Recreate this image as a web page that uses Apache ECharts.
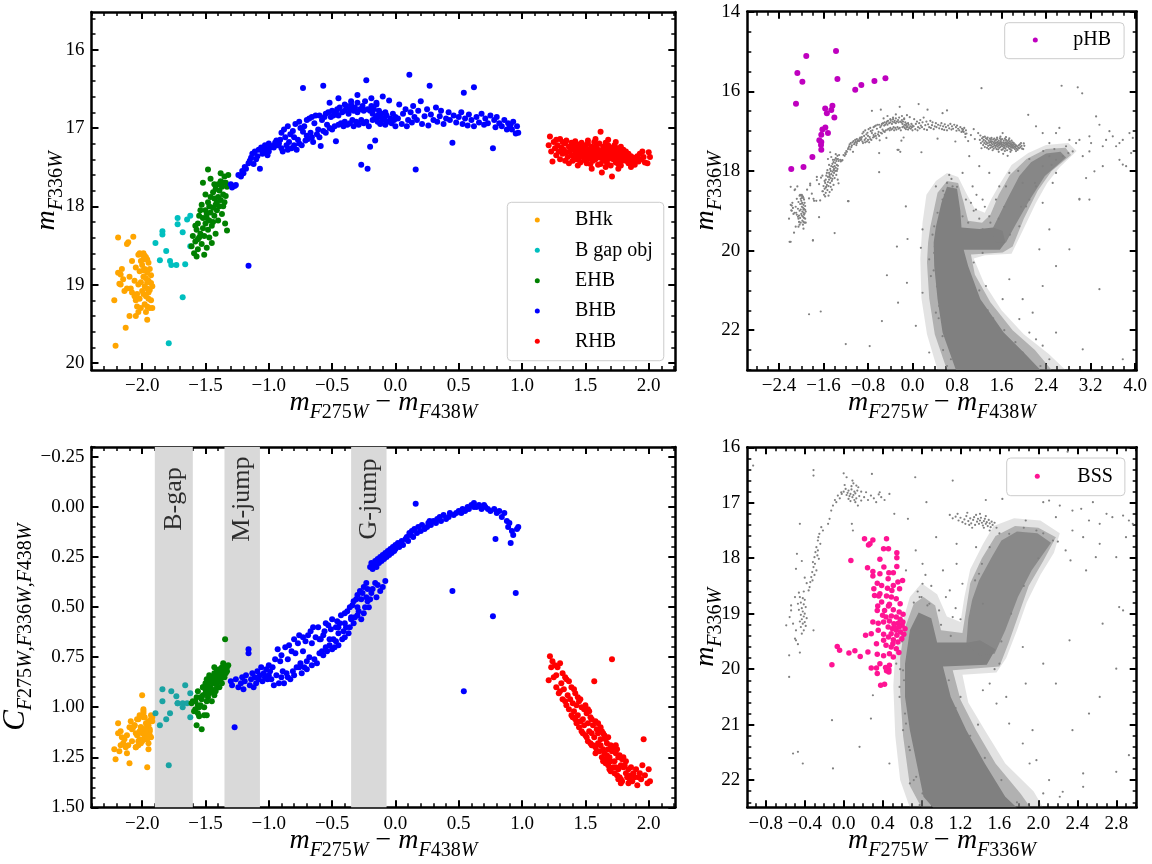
<!DOCTYPE html>
<html><head><meta charset="utf-8">
<script src="https://cdn.jsdelivr.net/npm/echarts@6/dist/echarts.min.js"></script>
<style>html,body{margin:0;padding:0;background:#fff}#c{width:1152px;height:864px}</style>
</head><body><div id="c"></div><script>
// ---------- DATA: HB stars as [m275-m438, m336, C(275,336,438)] ----------
const bhkData = [[-2.19,18.40,1.08],[-2.12,18.48,1.14],[-2.11,18.46,1.19],[-2.07,18.39,1.10],[-2.22,19.20,1.21],[-2.21,19.78,1.26],[-2.13,19.55,1.20],[-2.10,19.40,1.28],[-1.96,19.45,1.30],[-2.03,19.35,1.17],[-2.16,18.80,1.15],[-2.17,18.87,1.12],[-2.15,18.93,1.18],[-2.18,18.99,1.22],[-2.14,19.08,1.16],[-2.19,18.85,1.13],[-2.08,19.10,1.11],[-2.06,19.15,1.09],[-2.09,19.05,1.07],[-2.05,19.20,1.20],[-2.04,19.28,1.14],[-2.03,18.62,1.06],[-2.02,18.60,1.04],[-2.00,18.62,0.94],[-1.99,18.60,1.01],[-1.98,18.63,1.05],[-1.97,18.65,1.08],[-1.96,18.68,1.12],[-2.01,18.70,1.10],[-1.95,18.72,1.07],[-2.00,18.75,1.13],[-1.98,18.80,1.15],[-1.96,18.85,1.09],[-1.94,18.80,1.11],[-2.02,18.83,1.16],[-1.99,18.90,1.03],[-1.97,18.92,1.12],[-1.95,18.95,1.18],[-1.93,18.98,1.06],[-2.01,18.97,1.10],[-2.03,19.00,1.19],[-1.98,19.02,1.14],[-1.96,19.05,1.08],[-1.94,19.07,1.12],[-1.92,19.02,1.05],[-2.00,19.08,1.17],[-1.99,19.12,1.11],[-1.97,19.15,1.13],[-1.95,19.18,1.09],[-1.93,19.20,1.15],[-2.02,19.18,1.12],[-2.04,19.12,1.06],[-1.98,19.25,1.16],[-1.96,19.28,1.10],[-1.94,19.30,1.14],[-1.92,19.30,1.07],[-2.01,19.30,1.18],[-1.99,18.68,1.05],[-2.05,18.78,1.13],[-1.93,18.88,1.04],[-2.06,18.95,1.09],[-2.08,18.70,1.17],[-1.95,19.10,1.21],[-2.05,19.40,1.20],[-1.99,18.82,1.02],[-1.97,19.35,1.11],[-2.12,19.05,1.23],[-2.17,19.00,1.19],[-2.10,18.90,1.10],[-1.96,18.97,1.16]];
const bgapData = [[-1.895,18.47,1.03],[-1.86,18.69,1.09],[-1.84,18.32,0.91],[-1.84,18.36,0.97],[-1.81,18.57,1.06],[-1.78,18.70,1.03],[-1.77,18.75,0.92],[-1.73,18.75,0.945],[-1.72,18.15,0.98],[-1.72,18.23,0.98],[-1.68,18.33,0.98],[-1.66,18.74,0.89],[-1.645,18.17,0.98],[-1.62,18.12,0.93],[-1.62,18.51,1.05],[-1.68,19.16,1.00],[-1.79,19.75,1.29]];
const ehbData = [[-1.61,18.51,0.98],[-1.57,18.64,1.09],[-1.59,18.60,1.02],[-1.58,18.45,0.97],[-1.56,18.55,1.03],[-1.55,18.40,1.045],[-1.57,18.30,0.95],[-1.56,18.22,0.92],[-1.54,18.35,0.99],[-1.53,18.48,1.11],[-1.52,18.28,0.94],[-1.52,18.15,0.90],[-1.51,18.38,1.00],[-1.50,18.05,0.88],[-1.50,18.22,0.93],[-1.49,18.53,1.04],[-1.49,18.10,0.86],[-1.48,17.95,0.89],[-1.48,18.30,0.95],[-1.47,18.00,0.84],[-1.47,18.18,0.91],[-1.46,17.88,0.87],[-1.46,18.08,0.90],[-1.45,18.47,0.97],[-1.45,18.25,0.92],[-1.44,17.82,0.85],[-1.44,18.02,0.88],[-1.43,17.90,0.83],[-1.43,18.12,0.94],[-1.42,17.78,0.86],[-1.42,18.35,0.91],[-1.41,17.95,0.82],[-1.41,18.05,0.89],[-1.40,17.72,0.84],[-1.40,17.88,0.87],[-1.39,18.00,0.90],[-1.39,17.80,0.81],[-1.38,17.68,0.83],[-1.38,17.92,0.86],[-1.37,17.75,0.80],[-1.37,18.10,0.88],[-1.36,17.70,0.82],[-1.36,17.85,0.84],[-1.35,17.62,0.79],[-1.35,17.95,0.85],[-1.34,17.70,0.81],[-1.34,17.87,0.83],[-1.345,18.22,0.66],[-1.33,18.31,0.80],[-1.32,17.60,0.79],[-1.33,17.75,0.82],[-1.48,17.53,0.86],[-1.52,17.70,0.90],[-1.53,17.98,0.96],[-1.55,18.12,1.00],[-1.58,18.25,1.01],[-1.60,18.38,0.97],[-1.51,18.62,1.04],[-1.47,18.40,0.93],[-1.44,18.20,0.87],[-1.43,17.72,0.80],[-1.46,17.65,0.85],[-1.50,17.85,0.91],[-1.54,18.05,0.95],[-1.40,18.18,0.86],[-1.38,17.58,0.84],[-1.36,18.00,0.78],[-1.42,17.98,0.92],[-1.49,18.15,0.97],[-1.56,18.42,0.99]];
const bhbData = [[-1.30,17.72,0.87],[-1.29,17.76,0.89],[-1.27,17.74,1.10],[-1.26,17.73,0.86],[-1.24,17.60,0.90],[-1.22,17.62,0.88],[-1.21,17.55,0.85],[-1.20,17.58,0.91],[-1.19,17.50,0.87],[-1.18,17.52,0.84],[-1.16,18.76,0.71],[-1.16,17.45,0.73],[-1.15,17.42,0.89],[-1.14,17.38,0.86],[-1.13,17.33,0.83],[-1.12,17.46,0.90],[-1.11,17.30,0.85],[-1.10,17.40,0.88],[-1.09,17.36,0.82],[-1.08,17.28,0.86],[-1.07,17.52,0.84],[-1.06,17.25,0.80],[-1.05,17.33,0.87],[-1.04,17.30,0.83],[-1.03,17.22,0.85],[-1.02,17.27,0.81],[-1.01,17.35,0.86],[-1.00,17.20,0.79],[-1.00,17.30,0.84],[-0.99,17.25,0.82],
[-0.98,17.24,0.86],[-0.97,17.23,0.80],[-0.96,17.25,0.89],[-0.95,17.19,0.76],[-0.94,17.16,0.84],[-0.93,17.22,0.71],[-0.92,17.20,0.88],[-0.91,17.15,0.77],[-0.90,17.26,0.85],[-0.90,17.06,0.74],[-0.89,17.30,0.82],[-0.88,17.02,0.88],[-0.87,17.12,0.70],[-0.86,17.22,0.83],[-0.85,17.28,0.76],[-0.85,16.98,0.85],[-0.84,17.18,0.69],[-0.83,17.08,0.86],[-0.82,17.26,0.72],[-0.81,17.04,0.82],[-0.80,17.12,0.66],[-0.80,17.22,0.84],[-0.79,16.95,0.73],[-0.78,17.28,0.80],[-0.77,17.15,0.68],[-0.76,16.92,0.80],[-0.76,17.20,0.64],[-0.75,17.00,0.78],[-0.74,17.22,0.83],[-0.73,16.49,0.72],[-0.73,17.05,0.65],[-0.72,16.98,0.80],[-0.71,17.16,0.67],[-0.70,16.90,0.77],[-0.70,17.10,0.81],[-0.69,17.14,0.64],[-0.68,16.88,0.75],[-0.67,17.06,0.62],[-0.66,17.12,0.79],[-0.66,16.86,0.68],[-0.65,17.18,0.60],[-0.64,16.94,0.76],[-0.63,16.84,0.65],[-0.62,17.08,0.78],[-0.61,17.02,0.60],[-0.60,16.84,0.73],[-0.60,17.12,0.66],[-0.59,17.23,0.66],[-0.58,16.90,0.72],[-0.57,16.46,0.64],
[-0.57,17.04,0.74],[-0.56,16.86,0.62],[-0.55,16.82,0.70],[-0.55,17.06,0.58],[-0.54,16.96,0.72],[-0.53,16.80,0.59],[-0.52,17.00,0.69],[-0.51,16.86,0.61],[-0.50,16.78,0.71],[-0.50,17.02,0.56],[-0.49,16.84,0.66],[-0.48,16.98,0.70],[-0.47,17.17,0.60],[-0.47,16.80,0.67],[-0.46,16.76,0.57],[-0.45,16.96,0.63],[-0.45,16.84,0.69],[-0.44,16.74,0.58],[-0.43,16.94,0.54],[-0.42,16.80,0.66],[-0.41,16.98,0.62],[-0.40,16.78,0.53],[-0.40,16.92,0.65],[-0.39,16.72,0.60],[-0.38,16.96,0.52],[-0.37,16.82,0.63],[-0.36,16.76,0.50],[-0.36,16.94,0.60],[-0.35,16.70,0.56],[-0.34,16.90,0.49],[-0.33,16.78,0.58],[-0.33,16.98,0.47],[-0.32,16.74,0.55],[-0.31,16.92,0.46],[-0.30,16.80,0.54],[-0.30,16.68,0.44],[-0.29,16.96,0.52],[-0.28,16.76,0.42],[-0.27,17.47,0.46],[-0.27,16.90,0.56],[-0.26,16.72,0.43],[-0.25,16.94,0.53],[-0.25,16.78,0.40],[-0.24,16.66,0.50],[-0.23,16.39,0.45],[-0.23,16.92,0.38],[-0.22,17.52,0.47],[-0.22,16.76,0.41],[-0.21,16.98,0.50],[-0.20,17.24,0.46],
[-0.52,16.68,0.66],[-0.45,16.62,0.60],[-0.40,16.70,0.58],[-0.35,16.66,0.55],[-0.30,16.58,0.50],
[-0.20,16.78,0.30],[-0.19,16.62,0.43],[-0.19,16.72,0.28],[-0.18,16.90,0.41],[-0.18,16.82,0.31],[-0.17,16.76,0.29],[-0.16,17.16,0.38],[-0.16,16.88,0.27],[-0.15,16.68,0.30],[-0.15,16.70,0.45],[-0.14,16.92,0.26],[-0.14,16.84,0.39],[-0.13,16.78,0.28],[-0.12,16.95,0.25],[-0.12,16.86,0.42],[-0.11,16.82,0.27],[-0.10,16.60,0.24],[-0.10,16.90,0.40],[-0.09,16.88,0.26],[-0.08,16.80,0.23],[-0.08,16.96,0.37],[-0.07,16.84,0.25],[-0.06,16.92,0.22],[-0.05,16.65,0.24],[-0.04,16.88,0.21],[-0.03,16.94,0.23],[-0.02,16.82,0.20],[-0.01,16.90,0.22],[0.00,16.86,0.19],[0.00,16.98,0.21],
[0.02,16.88,0.18],[0.03,16.70,0.20],[0.05,16.95,0.17],[0.06,16.82,0.19],[0.08,16.76,0.16],[0.09,16.98,0.15],[0.10,16.90,0.17],[0.11,16.32,0.13],[0.12,16.80,0.14],[0.13,16.93,0.12],[0.14,16.72,0.15],[0.15,16.86,0.11],[0.16,17.53,-0.017],[0.17,16.90,0.13],[0.18,16.78,0.10],[0.20,16.66,0.12],[0.21,16.95,0.09],[0.23,16.85,0.11],[0.25,16.76,0.10],[0.26,16.97,0.08],[0.27,16.46,0.07],[0.28,16.83,0.09],[0.30,16.90,0.07],[0.32,16.74,0.08],[0.33,16.92,0.06],[0.35,16.85,0.05],[0.36,16.78,0.07],[0.38,16.95,0.04],[0.40,16.88,0.06],[0.42,16.80,0.05],[0.43,16.90,0.03],[0.45,17.19,0.42],[0.46,16.84,0.04],[0.48,16.93,0.03],[0.50,16.86,0.02],
[0.52,16.80,0.03],[0.53,16.95,0.01],[0.54,16.55,0.92],[0.55,16.88,0.02],[0.57,16.97,0.00],[0.58,16.83,0.01],[0.60,16.90,-0.01],[0.62,16.48,0.00],[0.62,16.98,-0.02],[0.64,16.86,0.00],[0.66,16.93,-0.01],[0.68,16.82,0.01],[0.70,16.96,-0.01],[0.71,16.88,0.00],[0.73,16.94,0.01],[0.75,16.84,0.02],[0.77,17.26,0.545],[0.78,16.90,0.01],[0.79,16.99,0.16],[0.80,16.86,0.03],[0.82,16.94,0.02],[0.84,16.98,0.05],[0.86,16.90,0.03],[0.88,17.02,0.07],[0.89,16.94,0.10],[0.90,17.00,0.08],[0.91,16.96,0.18],[0.92,17.02,0.12],[0.93,16.92,0.14],[0.95,17.07,0.43],[0.96,16.98,0.11],[0.97,17.06,0.10]];
const rhbData = [[1.21,17.22,0.865],[1.22,17.11,0.745],[1.23,17.30,0.80],[1.24,17.43,0.77],[1.25,17.18,0.85],[1.26,17.26,0.79],[1.27,17.15,0.84],[1.27,17.35,0.90],[1.28,17.22,0.80],[1.29,17.30,0.93],[1.30,17.14,0.78],[1.30,17.40,0.92],
[1.31,17.25,0.88],[1.32,17.18,0.96],[1.32,17.33,0.83],[1.33,17.28,0.91],[1.34,17.42,0.97],[1.34,17.20,0.85],[1.35,17.31,0.99],[1.35,17.16,0.86],[1.36,17.37,0.94],[1.37,17.24,1.01],[1.37,17.45,0.87],[1.38,17.29,0.96],[1.39,17.19,1.04],[1.39,17.35,0.90],[1.40,17.27,0.98],[1.40,17.42,1.05],
[1.41,17.22,0.91],[1.41,17.36,1.02],[1.42,17.30,1.06],[1.42,17.17,0.93],[1.43,17.40,0.99],[1.43,17.26,1.08],[1.44,17.33,0.95],[1.44,17.48,1.04],[1.45,17.21,1.10],[1.45,17.38,0.97],[1.46,17.28,1.07],[1.46,17.44,0.96],[1.47,17.32,1.12],[1.47,17.19,1.00],[1.48,17.36,1.06],[1.48,17.25,1.13],[1.49,17.41,1.01],[1.49,17.30,1.09],[1.50,17.22,1.14],[1.50,17.37,0.99],
[1.51,17.29,1.03],[1.51,17.45,1.15],[1.52,17.34,1.08],[1.52,17.20,1.17],[1.53,17.39,1.02],[1.53,17.27,1.12],[1.54,17.31,1.18],[1.54,17.46,1.05],[1.55,17.24,1.13],[1.55,17.36,1.06],[1.56,17.30,1.19],[1.56,17.42,1.09],[1.57,17.18,0.87],[1.57,17.34,1.15],[1.58,17.27,1.07],[1.58,17.40,1.20],[1.59,17.32,1.11],[1.59,17.22,1.22],[1.60,17.37,1.08],[1.60,17.28,1.18],[1.60,17.47,1.13],[1.55,17.52,1.19],[1.52,17.16,1.01],[1.58,17.14,1.23],
[1.61,17.33,1.12],[1.61,17.20,1.22],[1.62,17.05,1.10],[1.62,17.38,1.19],[1.63,17.57,1.25],[1.63,17.29,1.12],[1.64,17.35,1.21],[1.64,17.24,1.27],[1.65,17.41,1.14],[1.65,17.31,1.23],[1.66,17.19,1.16],[1.66,17.37,1.28],[1.67,17.28,1.18],[1.67,17.44,1.24],[1.68,17.33,1.29],[1.68,17.22,1.15],[1.69,17.39,1.25],[1.69,17.30,1.31],[1.70,17.35,1.19],[1.70,17.25,1.27],[1.71,17.62,0.76],[1.70,17.48,1.32],[1.66,17.50,1.26],[1.62,17.46,1.16],[1.68,17.15,1.21],[1.64,17.42,1.13],
[1.71,17.32,1.22],[1.72,17.28,1.30],[1.72,17.40,1.20],[1.73,17.36,1.27],[1.73,17.22,1.33],[1.74,17.44,1.23],[1.74,17.31,1.30],[1.75,17.38,1.21],[1.75,17.26,1.34],[1.76,17.34,1.25],[1.76,17.46,1.31],[1.77,17.30,1.35],[1.77,17.40,1.24],[1.78,17.36,1.29],[1.78,17.24,1.36],[1.79,17.42,1.26],[1.79,17.33,1.37],[1.80,17.38,1.30],[1.80,17.28,1.25],[1.76,17.52,1.36],[1.74,17.18,1.19],[1.78,17.48,1.38],
[1.81,17.35,1.29],[1.82,17.42,1.33],[1.82,17.30,1.27],[1.83,17.38,1.35],[1.84,17.45,1.38],[1.84,17.33,1.31],[1.85,17.40,1.36],[1.86,17.50,1.34],[1.86,17.36,1.30],[1.87,17.44,1.37],[1.88,17.38,1.33],[1.89,17.47,1.35],[1.90,17.42,1.31],[1.91,17.36,1.39],
[1.92,17.43,1.35],[1.93,17.33,1.33],[1.94,17.40,1.36],[1.95,17.30,1.29],[1.96,17.37,1.16],[1.97,17.44,1.34],[1.99,17.45,1.38],[2.00,17.31,1.31],[2.01,17.37,1.37]];

// ---------- DATA: CMD panels ----------
const phbData = [[-1.91,15.11],[-1.375,14.985],[-2.07,15.54],[-1.98,15.76],[-1.35,15.69],[-1.03,15.96],[-0.92,15.84],[-0.685,15.74],[-0.487,15.67],[-2.095,16.31],[-1.44,16.36],[-1.57,16.43],[-1.46,16.47],[-1.54,16.55],[-1.405,16.66],[-1.567,16.91],[-1.62,16.96],[-1.52,17.05],[-1.64,17.09],[-1.675,17.23],[-1.64,17.27],[-1.645,17.35],[-1.64,17.47],[-1.80,17.65],[-2.18,17.95],[-1.96,17.90]];
const bssData = [[0.214,17.65],[0.255,17.76],[0.27,17.74],[0.30,17.67],[0.41,17.83],[0.44,17.65],[0.46,17.83],[0.546,17.90],[0.546,17.99],[0.074,18.04],[0.372,18.02],[0.245,18.17],[0.413,18.16],[0.546,18.15],[0.30,18.24],[0.30,18.32],[0.372,18.28],[0.464,18.26],[0.51,18.26],[0.605,18.40],[0.345,18.45],[0.39,18.49],[0.557,18.43],[0.31,18.55],[0.372,18.64],[0.45,18.54],[0.495,18.58],[0.574,18.55],[0.36,18.68],[0.44,18.68],[0.49,18.70],[0.54,18.73],[0.47,18.83],[0.58,18.82],[0.35,18.86],[0.42,18.94],[0.46,18.86],[0.51,18.93],[0.57,18.97],[0.61,19.01],[0.345,18.94],[0.40,19.03],[0.49,19.04],[0.54,19.06],[0.58,19.10],[0.30,19.15],[0.355,19.17],[0.41,19.15],[0.47,19.13],[0.516,19.18],[0.56,19.17],[0.60,19.21],[0.63,19.27],[0.457,19.24],[0.50,19.27],[0.54,19.30],[0.584,19.33],[0.618,19.37],[0.225,19.39],[0.283,19.36],[0.355,19.30],[0.41,19.37],[0.46,19.42],[0.51,19.47],[0.557,19.51],[0.597,19.45],[0.41,19.48],[0.337,19.54],[0.435,19.57],[0.488,19.60],[0.54,19.63],[0.567,19.70],[-0.066,19.59],[-0.042,19.66],[0.054,19.71],[0.115,19.67],[0.17,19.77],[0.249,19.69],[0.345,19.73],[0.41,19.76],[0.47,19.72],[0.51,19.78],[-0.121,19.92],[0.283,19.98],[0.337,19.98],[0.372,19.90],[0.43,19.97],[0.464,20.01],[0.44,20.03],[0.47,19.93],[0.345,20.08],[0.38,20.29],[0.42,20.27],[0.464,20.05],[0.505,19.54],[0.52,19.24],[0.57,19.24],[0.546,19.39],[0.488,19.36],[0.608,19.15],[0.435,19.06],[0.39,18.79],[0.317,18.67],[0.51,18.49],[0.457,18.37]];
const brHbData = [[0.03,16.54],[0.09,16.60],[0.13,16.69],[0.02,16.75],[0.05,16.78],[0.08,16.76],[0.11,16.80],[0.14,16.78],[0.04,16.82],[0.07,16.84],[0.10,16.86],[0.12,16.83],[0.06,16.88],[0.09,16.90],[0.13,16.92],[0.03,16.86],[0.00,16.80],[0.16,16.88],[0.11,16.95],[0.05,16.93],[0.08,16.70],[0.15,16.72],[0.18,16.80],[0.01,16.68],[0.10,16.65],[-0.02,16.84],[0.07,16.97],[0.12,16.99],
[-0.025,16.81],[-0.06,16.87],[-0.076,16.99],[-0.11,17.05],[-0.128,17.14],[-0.145,17.29],[-0.16,17.38],[-0.09,16.95],[-0.04,16.92],
[0.18,16.96],[0.23,16.81],[0.28,16.87],[0.334,16.99],[0.386,16.90],[0.47,16.84],[0.146,17.05],[0.21,16.90],[0.25,16.95],[0.31,16.92],[0.36,16.85],[0.42,16.95],
[-0.23,17.44],[-0.213,17.50],[-0.25,17.56],[-0.265,17.68],[-0.24,17.74],[-0.28,17.80],[-0.265,17.86],[-0.29,17.89],[-0.30,17.98],[-0.255,18.01],[-0.316,18.07],[-0.295,18.10],[-0.31,18.16],[-0.28,18.22],[-0.323,18.25],[-0.333,18.34],[-0.343,18.43],[-0.35,18.52],[-0.36,18.58],[-0.30,18.30],[-0.27,17.95],[-0.32,18.40],[-0.26,17.62],
[-0.31,16.41],[-0.31,16.51],[-0.45,17.38],[-0.48,17.92],[-0.49,18.19],[-0.43,18.05],[-0.40,18.35],[-0.38,18.45],
[-0.45,18.70],[-0.42,18.72],[-0.40,18.75],[-0.44,18.80],[-0.41,18.83],[-0.39,18.88],[-0.43,18.90],[-0.46,18.93],[-0.42,18.96],[-0.40,19.00],[-0.44,19.02],[-0.41,19.05],[-0.38,19.08],[-0.43,19.10],[-0.45,19.14],[-0.40,19.15],[-0.42,19.18],[-0.44,19.24],[-0.39,19.22],[-0.41,19.30],[-0.43,19.36],[-0.46,18.62],[-0.41,18.60],[-0.555,19.06],[-0.54,18.94],[-0.52,19.18],[-0.49,19.30],[-0.47,18.82],[-0.50,19.45],[-0.47,19.55],[-0.45,19.70],[-0.50,18.70],
[1.09,17.22],[1.12,17.28],[1.15,17.25],[1.18,17.32],[1.20,17.27],[1.22,17.35],[1.24,17.30],[1.26,17.24],[1.28,17.33],[1.30,17.28],[1.31,17.37],[1.33,17.31],[1.34,17.26],[1.35,17.40],[1.37,17.34],[1.38,17.29],[1.39,17.38],[1.40,17.32],[1.41,17.27],[1.42,17.36],[1.43,17.41],[1.44,17.33],[1.45,17.29],[1.46,17.38],[1.47,17.35],[1.48,17.42],[1.49,17.31],[1.50,17.37],[1.51,17.44],[1.52,17.34],[1.53,17.40],[1.55,17.36],[1.57,17.45],[1.36,17.22],[1.29,17.40],[1.25,17.38],[1.17,17.20],[1.44,17.45],[1.32,17.45],[1.40,17.20],[1.46,17.24],[1.27,17.18]];
const trField = [[1.24,15.92],[2.68,15.86],[2.97,15.90],[3.05,16.05],[2.08,16.59],[2.22,16.88],[2.58,17.05],[2.64,16.92],[3.00,17.22],[3.18,17.13],[3.30,16.63],[3.36,16.84],[3.48,17.22],[3.60,17.13],[3.72,17.30],[3.78,17.22],[3.90,17.05],[3.96,17.17],[3.93,17.55],[3.78,17.84],[3.72,17.72],[3.42,17.38],[3.18,17.51],[3.06,17.63],[2.88,17.51],[2.76,17.38],[2.94,17.30],[3.27,18.01],[3.12,18.18],[3.00,18.72],[3.84,17.88],[2.34,17.05],[2.46,17.30],[2.70,17.63],[2.58,17.72],[2.82,17.22],[3.54,17.00],[3.66,17.38],[3.21,17.30],
[1.05,17.10],[1.12,17.20],[1.00,17.25],[1.18,17.05],[1.10,16.95],[0.95,17.15],
[-0.60,18.03],[-1.15,18.76],[-1.40,19.56],[-1.79,19.74],[-2.19,19.78],[-1.86,21.60],[-1.65,21.53],[-1.20,22.35],[-0.77,22.40],[-0.55,21.77],[-0.26,21.31],[-0.10,20.81],[-0.46,20.62],[-0.28,19.90],[-0.09,19.71],[0.15,19.93],[-0.12,18.89],[0.42,18.39],[0.54,18.72],[0.45,19.05],[0.18,19.47],[0.30,20.22],[0.18,21.06],[0.06,21.89],[0.30,22.56],[0.54,22.15],[0.42,21.56],[0.33,20.64],[-0.60,17.55],[-0.25,17.47],
[3.18,18.72],[3.00,18.70],[3.36,20.97],[2.46,19.47],[2.28,19.97],[2.58,20.39],[2.34,20.89],[2.16,21.56],[2.58,22.06],[3.06,22.48],[3.78,22.73],[2.34,22.39],[2.82,19.97],[2.04,18.89],[1.56,18.39],[1.38,18.05],[1.20,17.88],[1.02,17.63],[1.26,18.72],[0.90,18.05],[0.72,18.39],[2.52,18.30],[3.42,17.88],[2.34,18.80],
[0.96,18.72],[1.14,18.97],[1.38,19.14],[1.08,18.39],[1.26,19.47],[1.50,18.72],[0.90,19.14],
[0.39,19.39],[0.39,20.06],[0.45,20.72],[0.48,21.39],[0.60,22.06],[0.69,22.73],[0.51,19.56],[0.45,20.39],
[1.26,20.06],[1.32,20.89],[1.62,21.22],[1.92,21.72],[2.22,22.23],[2.46,22.73],[1.74,20.72],[1.98,21.22],[2.10,22.06],[1.98,22.56],
[1.74,18.05],[1.98,18.30],[2.34,17.88],[2.10,18.72],[1.92,19.39],[1.68,18.39],[2.22,18.39],[2.58,18.05],[2.46,17.63],
[0.40,19.90],[0.44,20.90],[0.47,21.70],[0.55,22.50],[0.62,22.90],[0.38,20.50],[0.36,19.60],
[1.00,20.60],[1.20,21.00],[1.35,21.50],[1.65,22.00],[1.85,22.30],[2.05,22.70],[2.30,22.90],[1.10,20.30],[1.45,21.70],
[0.55,18.50],[0.62,18.30],[0.70,18.20],[0.75,18.60],[0.80,18.40],[0.66,18.10],[0.58,18.60],
[1.00,19.30],[1.10,19.00],[1.20,19.20],[1.30,18.90],[1.40,19.30],[1.15,18.60],[1.05,18.80],
[1.55,19.20],[1.65,18.90],[1.90,18.00],[2.10,17.70],[2.35,17.50],[2.55,17.45],[2.80,17.55],[2.50,17.85],[2.20,18.30],[1.95,18.90],[1.75,19.60]];
const brField = [[-0.93,16.33],[0.00,16.47],[0.29,16.48],[0.735,16.54],[1.12,16.60],[1.46,16.95],[1.63,16.93],[2.30,16.08],[2.05,16.99],[0.85,16.99],[0.37,16.81],[0.52,17.20],[0.66,17.29],[0.095,17.50],[0.084,17.38],[-0.54,18.85],[-0.59,19.21],[-0.56,19.75],[-0.49,19.48],[-0.56,20.14],[-0.31,19.30],[-0.52,21.52],[-0.47,21.49],[-0.42,21.70],[-0.11,21.79],[-0.12,20.92],[0.163,21.40],[0.28,20.89],[0.30,20.47],[0.574,20.32],[0.61,20.02],[0.71,19.78],[0.68,19.42],[0.61,21.10],[0.47,21.70],[0.68,22.06],[0.81,22.24],[0.68,21.46],[0.78,18.70],[0.81,18.46],[0.88,18.82],[0.98,18.94],[1.09,18.58],[1.02,18.22],[1.16,18.10],[1.22,18.46],[1.12,19.06],[0.81,18.10],[0.64,18.22],[0.74,17.86],[0.95,17.62],[1.16,17.74],[1.36,17.80],[1.50,17.50],[1.70,17.56],
[2.83,18.88],[2.87,18.94],[2.66,19.18],[2.80,19.99],[2.93,21.55],[2.80,21.85],[2.46,21.88],[2.35,21.10],[2.52,20.80],[2.63,20.50],[2.18,20.26],[1.94,21.10],[2.05,19.90],[1.84,19.60],[2.32,19.48],[1.91,21.70],[2.05,22.24],[2.25,22.21],[2.46,22.12],[1.87,20.26],
[2.11,16.96],[2.22,17.05],[2.35,17.14],[2.44,17.11],[2.52,17.32],[2.63,17.38],[2.70,17.20],[2.76,17.26],[2.87,17.23],[2.93,17.32],[2.97,17.38],[2.90,17.62],[2.80,17.98],[2.63,17.74],[2.35,17.50],[2.46,17.62],[2.56,16.99],[2.18,17.26],[1.98,17.50],[1.87,17.32],[2.15,17.68],[2.28,17.86],[2.59,17.98],[2.33,18.04],[2.49,18.22],
[1.43,18.82],[1.39,18.28],[0.54,19.90],[0.574,20.50],[0.64,20.98],[0.745,21.94],[0.54,19.18],
[1.43,20.38],[1.57,20.62],[1.70,20.98],[1.84,21.34],[1.98,21.64],[2.11,22.00],[2.22,22.30],[1.50,20.26],[1.67,20.50],
[0.60,19.50],[0.62,20.20],[0.63,20.80],[0.67,21.40],[0.72,22.00],[0.78,22.45],[0.58,20.00],
[1.08,20.20],[1.15,20.70],[1.30,21.20],[1.45,21.60],[1.62,22.00],[1.78,22.40],[1.20,20.50],[1.38,21.00],
[0.72,18.80],[0.80,18.70],[0.86,18.85],[0.76,18.60],[0.90,18.50],[0.84,18.30],
[1.00,19.20],[1.10,19.40],[1.15,18.90],[1.20,19.10],[1.05,18.70],
[1.30,19.60],[1.35,18.40],[1.42,18.10],[1.50,17.80],[1.60,17.55],[1.85,17.45],[2.05,17.55],[2.20,17.70],[2.00,18.00],[1.85,18.50],[1.72,19.00],[1.62,19.50],[1.60,19.90],[1.55,20.00]];
// outlines of the crowded MS / SGB / RGB (data coordinates): core, inner and outer spread
const trMsCore = [[0.42,19.4],[0.52,18.8],[0.62,18.4],[0.80,18.45],[0.86,19.0],[0.88,19.42],[1.2,19.46],[1.45,19.42],[1.62,19.5],[1.67,19.8],[1.57,19.98],[1.2,19.98],[0.92,19.98],[1.0,20.39],[1.22,21.22],[1.64,22.06],[2.0,22.56],[2.3,23.0],[0.78,23.0],[0.54,22.06],[0.45,21.22],[0.39,20.39],[0.38,19.8]];
const trRgbCore = [[1.42,19.5],[1.70,18.72],[1.92,18.13],[2.13,17.78],[2.4,17.56],[2.66,17.52],[2.76,17.66],[2.38,18.13],[2.11,18.72],[1.84,19.38],[1.68,19.8],[1.5,19.8]];
const trInner = [[0.32,19.4],[0.45,18.55],[0.62,18.25],[0.82,18.3],[0.92,18.8],[1.0,19.25],[1.25,19.3],[1.4,19.1],[1.55,18.6],[1.75,18.1],[2.05,17.7],[2.4,17.45],[2.75,17.42],[2.85,17.6],[2.5,18.0],[2.25,18.5],[2.0,19.2],[1.8,19.9],[1.62,20.05],[1.05,20.1],[1.12,20.6],[1.4,21.3],[1.8,22.0],[2.2,22.5],[2.5,23.0],[0.62,23.0],[0.4,22.1],[0.3,21.2],[0.26,20.3],[0.28,19.8]];
const trSpread = [[0.25,18.6],[0.42,18.25],[0.62,18.05],[0.82,18.15],[0.98,18.6],[1.12,18.95],[1.3,19.05],[1.42,18.7],[1.58,18.3],[1.78,17.85],[2.08,17.55],[2.4,17.35],[2.8,17.3],[2.95,17.5],[2.65,17.9],[2.42,18.3],[2.22,18.8],[1.98,19.5],[1.78,20.08],[1.3,20.12],[1.1,20.2],[1.28,20.8],[1.6,21.5],[2.0,22.1],[2.45,22.6],[2.75,23.0],[0.45,23.0],[0.26,22.1],[0.16,21.2],[0.14,20.2],[0.18,19.3]];
const brMsCore = [[0.68,19.3],[0.77,18.98],[0.90,19.08],[0.96,19.52],[1.28,19.52],[1.40,19.48],[1.56,19.64],[1.47,19.92],[1.02,19.95],[1.10,20.5],[1.26,21.1],[1.45,21.7],[1.66,22.3],[1.78,22.5],[0.92,22.5],[0.82,22.3],[0.75,21.7],[0.68,21.1],[0.63,20.5],[0.63,19.9]];
const brRgbCore = [[1.26,19.55],[1.28,19.1],[1.32,18.75],[1.39,18.4],[1.52,17.98],[1.62,17.68],[1.78,17.52],[1.99,17.55],[2.13,17.72],[1.93,18.22],[1.79,18.7],[1.66,19.3],[1.55,19.72],[1.40,19.75]];
const brInner = [[0.62,19.3],[0.72,18.82],[0.82,18.7],[0.94,18.85],[1.0,19.3],[1.22,19.35],[1.26,18.9],[1.3,18.45],[1.42,18.0],[1.56,17.6],[1.76,17.42],[2.0,17.45],[2.18,17.62],[2.05,18.05],[1.9,18.5],[1.8,19.0],[1.7,19.5],[1.6,19.95],[1.12,20.02],[1.2,20.55],[1.36,21.1],[1.56,21.7],[1.82,22.25],[1.92,22.5],[0.8,22.5],[0.68,22.1],[0.61,21.2],[0.58,20.4],[0.58,19.8]];
const brSpread = [[0.58,19.3],[0.68,18.7],[0.8,18.45],[0.96,18.65],[1.06,19.05],[1.2,19.15],[1.24,18.7],[1.3,18.2],[1.43,17.75],[1.54,17.42],[1.75,17.28],[2.02,17.32],[2.22,17.55],[2.16,17.9],[2.02,18.3],[1.88,18.8],[1.78,19.3],[1.67,19.8],[1.57,20.06],[1.22,20.1],[1.28,20.6],[1.45,21.1],[1.66,21.7],[1.95,22.2],[2.05,22.5],[0.68,22.5],[0.58,22.0],[0.53,21.2],[0.51,20.3],[0.53,19.7]];
// jump bands in the C-index panel
const bandNames = ['B-gap','M-jump','G-jump'];
const bandRanges = [[-1.9,-1.6],[-1.35,-1.07],[-0.35,-0.07]];
// tick labels
const tlXTicks = [-2.0,-1.5,-1.0,-0.5,0.0,0.5,1.0,1.5,2.0];
const tlYTicks = [16,17,18,19,20];
const blYTicks = [-0.25,0.00,0.25,0.50,0.75,1.00,1.25,1.50];
const trXTicks = [-2.4,-1.6,-0.8,0.0,0.8,1.6,2.4,3.2,4.0];
const trYTicks = [14,16,18,20,22];
const brXTicks = [-0.8,-0.4,0.0,0.4,0.8,1.2,1.6,2.0,2.4,2.8];
const brYTicks = [16,17,18,19,20,21,22];

// ---------- CHART ----------
const FONT = "'Liberation Serif','Times New Roman',serif";
const RICH = {
  mi:{fontFamily:FONT,fontStyle:'italic',fontSize:28,color:'#000'},
  ci:{fontFamily:FONT,fontStyle:'italic',fontSize:31,color:'#000'},
  si:{fontFamily:FONT,fontStyle:'italic',fontSize:20,color:'#000',padding:[20,0,0,0]},
  sd:{fontFamily:FONT,fontSize:20,color:'#000',padding:[20,0,0,0]},
  op:{fontFamily:FONT,fontSize:28,color:'#000'}
};
const XN438 = '{mi|m}{si|F}{sd|275}{si|W}{op| \u2212 }{mi|m}{si|F}{sd|438}{si|W}';
const XN336 = '{mi|m}{si|F}{sd|275}{si|W}{op| \u2212 }{mi|m}{si|F}{sd|336}{si|W}';
const YN336 = '{mi|m}{si|F}{sd|336}{si|W}';
const YNC = '{ci|C}{si|F}{sd|275}{si|W}{sd|,}{si|F}{sd|336}{si|W}{sd|,}{si|F}{sd|438}{si|W}';

function fmt(dec){ return v => (v < 0 ? '\u2212' : '') + Math.abs(v).toFixed(dec); }
function minorList(min, max, step){
  const out = []; const s = Math.ceil(min/step - 1e-9);
  for (let k = s; k*step <= max + 1e-9; k++) out.push(+(k*step).toFixed(6));
  return out;
}
function axesFor(dim, gi, min, max, majors, minorStep, dec, name, nameGap, inverse){
  const minors = minorList(min, max, minorStep);
  const posA = dim === 'x' ? 'bottom' : 'left', posB = dim === 'x' ? 'top' : 'right';
  const base = {type:'value', gridIndex:gi, min, max, inverse:!!inverse, scale:true, splitLine:{show:false}, splitArea:{show:false}, nameMoveOverlap:false};
  const line = {show:true, onZero:false, lineStyle:{color:'#000', width:2.5}};
  const noLine = {show:false, onZero:false};
  const maj = {show:true, inside:true, length:7, lineStyle:{color:'#000', width:2}, customValues:majors};
  const mnr = {show:true, inside:true, length:4, lineStyle:{color:'#000', width:1.5}, customValues:minors};
  return [
    Object.assign({}, base, {position:posA, axisLine:line, axisTick:maj,
      axisLabel:{show:true, customValues:majors, formatter:fmt(dec), fontFamily:FONT, fontSize:19, color:'#000', margin:7},
      name:name, nameLocation:'middle', nameGap:nameGap, nameRotate: dim === 'y' ? 90 : 0,
      nameTextStyle:{fontFamily:FONT, color:'#000', rich:RICH}}),
    Object.assign({}, base, {position:posA, axisLine:noLine, axisTick:mnr, axisLabel:{show:false}}),
    Object.assign({}, base, {position:posB, axisLine:line, axisTick:maj, axisLabel:{show:false}}),
    Object.assign({}, base, {position:posB, axisLine:noLine, axisTick:mnr, axisLabel:{show:false}})
  ];
}
// grids: 0 TL, 1 TR, 2 BL, 3 BR
const xAxes = [].concat(
  axesFor('x',0,-2.40,2.21,tlXTicks,0.1,1,XN438,13),
  axesFor('x',1,-2.97,4.03,trXTicks,0.2,1,XN438,13),
  axesFor('x',2,-2.40,2.21,tlXTicks,0.1,1,XN438,13),
  axesFor('x',3,-0.99,3.01,brXTicks,0.1,1,XN336,13)
);
const yAxes = [].concat(
  axesFor('y',0,15.52,20.09,tlYTicks,0.2,0,YN336,25,true),
  axesFor('y',1,14,23,trYTicks,0.5,0,YN336,22,true),
  axesFor('y',2,-0.30,1.50,blYTicks,0.05,2,YNC,56,true),
  axesFor('y',3,16,22.49,brYTicks,0.2,0,YN336,22,true)
);
function ax(g){ return {xAxisIndex:4*g, yAxisIndex:4*g}; }
const groups = [
  {name:'BHk', data:bhkData, c1:'#ffa500', c2:'#ffa500'},
  {name:'B gap obj', data:bgapData, c1:'#00bfbf', c2:'#1aa3a3'},
  {name:'EHB', data:ehbData, c1:'#008000', c2:'#008000'},
  {name:'BHB', data:bhbData, c1:'#0000ff', c2:'#0000ff'},
  {name:'RHB', data:rhbData, c1:'#ff0000', c2:'#ff0000'}
];
const series = [];
series.push(Object.assign({type:'scatter', name:'bands', z:1, symbolSize:1, itemStyle:{color:'rgba(0,0,0,0)'},
  data: bandNames.map((n,i) => ({name:n, value:[(bandRanges[i][0]+bandRanges[i][1])/2, -0.04]})),
  label:{show:true, position:'inside', rotate:90, formatter:'{b}', fontFamily:FONT, fontSize:26, color:'#000'},
  markArea:{silent:true, itemStyle:{color:'#d9d9d9'}, label:{show:false},
    data: bandRanges.map(r => [{xAxis:r[0]}, {xAxis:r[1]}])}
}, ax(2)));
groups.forEach(g => {
  series.push(Object.assign({type:'scatter', name:g.name, data:g.data, encode:{x:0, y:1}, symbolSize:6, z:2,
    itemStyle:{color:g.c1, opacity:1}}, ax(0)));
});
groups.forEach(g => {
  series.push(Object.assign({type:'scatter', name:g.name, data:g.data, encode:{x:0, y:2}, symbolSize:6, z:2,
    itemStyle:{color:g.c2, opacity:1}}, ax(2)));
});
function region(g, poly, op){
  return Object.assign({type:'custom', name:'region', data:[poly[0]], clip:true, silent:true, z:1,
    renderItem:(p, api) => ({type:'polygon', shape:{points: poly.map(pt => api.coord(pt))}, style:{fill:'#808080', opacity:op}})}, ax(g));
}
series.push(region(1, trSpread, 0.22), region(1, trInner, 0.5), region(1, trMsCore, 1), region(1, trRgbCore, 0.85),
            region(3, brSpread, 0.22), region(3, brInner, 0.5), region(3, brMsCore, 1), region(3, brRgbCore, 0.8));
const grayStyle = {color:'#808080', opacity:1};
series.push(Object.assign({type:'scatter', name:'trHB', data:[].concat(bhkData,bgapData,ehbData,bhbData,rhbData), encode:{x:0,y:1}, symbolSize:2.2, z:2, itemStyle:grayStyle}, ax(1)));
series.push(Object.assign({type:'scatter', name:'trField', data:trField, symbolSize:2.2, z:2, itemStyle:grayStyle}, ax(1)));
series.push(Object.assign({type:'scatter', name:'pHB', data:phbData, symbolSize:6, z:3, itemStyle:{color:'#bf00bf', opacity:1}}, ax(1)));
series.push(Object.assign({type:'scatter', name:'brHB', data:brHbData, symbolSize:2.2, z:2, itemStyle:grayStyle}, ax(3)));
series.push(Object.assign({type:'scatter', name:'brField', data:brField, symbolSize:2.2, z:2, itemStyle:grayStyle}, ax(3)));
series.push(Object.assign({type:'scatter', name:'BSS', data:bssData, symbolSize:5.5, z:3, itemStyle:{color:'#ff1493', opacity:1}}, ax(3)));

const legendBase = {orient:'vertical', icon:'circle', itemWidth:5, itemHeight:5, selectedMode:false,
  backgroundColor:'rgba(255,255,255,0.8)', borderColor:'#cccccc', borderWidth:1, borderRadius:4};
function lg(data, left, top, padding, tpad, gap){
  return Object.assign({}, legendBase, {data, left, top, padding, itemGap:gap || 0,
    textStyle:{fontFamily:FONT, fontSize:20, color:'#000', lineHeight:24, padding:[0,0,0,tpad]}});
}
const gridBase = {outerBoundsMode:'none', containLabel:false};
const option = {
  animation:false,
  backgroundColor:'#fff',
  grid:[
    Object.assign({left:91.5, top:12, width:583.8, height:358}, gridBase),
    Object.assign({left:747.3, top:11.7, width:389.4, height:358.3}, gridBase),
    Object.assign({left:91.5, top:447, width:583.8, height:360.3}, gridBase),
    Object.assign({left:747.3, top:447.3, width:389.4, height:360}, gridBase)
  ],
  xAxis:xAxes, yAxis:yAxes,
  legend:[
    lg(['BHk','B gap obj','EHB','BHB','RHB'], 507.3, 202.3, [5.7,11,7.4,27.5], 30.2, 6.33),
    lg(['pHB'], 1004.7, 22.7, [5.3,13,6.7,28.1], 30.5),
    lg(['BSS'], 1006.7, 458, [6.3,12,7.4,28.1], 32.5)
  ],
  series
};
const chart = echarts.init(document.getElementById('c'), null, {renderer:'canvas'});
chart.setOption(option);
</script></body></html>
